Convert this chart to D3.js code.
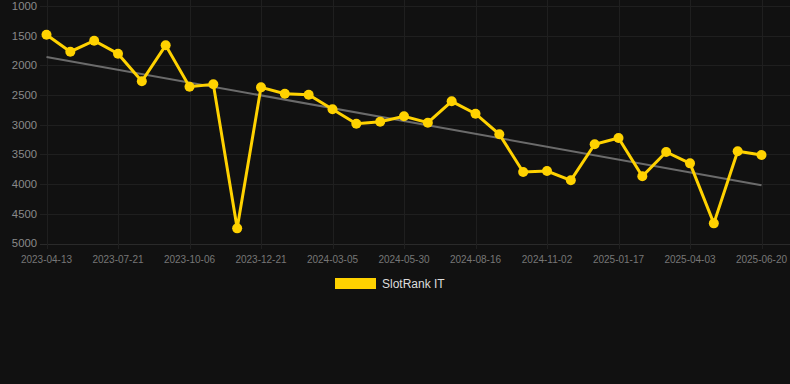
<!DOCTYPE html>
<html><head><meta charset="utf-8">
<script src="https://cdn.jsdelivr.net/npm/d3@7"></script>
<style>html,body{margin:0;padding:0;background:#111111;}svg{display:block;}</style>
</head><body>
<svg id="c" width="790" height="384"></svg>
<script>
const dates = ["2023-04-13","2023-05-06","2023-05-29","2023-07-21","2023-08-13","2023-09-05","2023-10-06","2023-10-29","2023-11-21","2023-12-21","2024-01-13","2024-02-05","2024-03-05","2024-03-28","2024-04-20","2024-05-30","2024-06-22","2024-07-15","2024-08-16","2024-09-08","2024-10-01","2024-11-02","2024-11-25","2024-12-18","2025-01-17","2025-02-09","2025-03-04","2025-04-03","2025-04-26","2025-05-19","2025-06-20"];
const ranks = [1483,1770,1584,1803,2268,1662,2359,2319,4745,2370,2477,2494,2740,2982,2948,2858,2965,2605,2814,3161,3795,3779,3936,3329,3223,3868,3459,3650,4661,3447,3509];
const yTicks = [1000,1500,2000,2500,3000,3500,4000,4500,5000];
const seriesName = "SlotRank IT";

const svg = d3.select("#c");
const x = d3.scalePoint().domain(d3.range(dates.length)).range([46.5, 761.5]);
const y = d3.scaleLinear().domain([1000, 5000]).range([6, 243.5]);

// grid
svg.append("g").selectAll("line").data(yTicks).join("line")
  .attr("x1", 40).attr("x2", 790)
  .attr("y1", d => Math.round(y(d)) + 0.5).attr("y2", d => Math.round(y(d)) + 0.5)
  .attr("stroke", d => d === 5000 ? "#2a2a2a" : "#1f1f1f").attr("stroke-width", 1);
const labelIdx = d3.range(0, dates.length, 3);
svg.append("g").selectAll("line").data(labelIdx).join("line")
  .attr("x1", i => Math.round(x(i)) + 0.5).attr("x2", i => Math.round(x(i)) + 0.5)
  .attr("y1", 0).attr("y2", 249)
  .attr("stroke", "#1f1f1f").attr("stroke-width", 1);

// axes labels
svg.append("g").selectAll("text").data(yTicks).join("text")
  .attr("x", 37).attr("y", d => y(d)).attr("dy", "0.35em")
  .attr("text-anchor", "end").attr("fill", "#8a8a8a")
  .attr("font-family", "Arial, 'Liberation Sans', sans-serif").attr("font-size", "11.3px")
  .text(d => d);
svg.append("g").selectAll("text").data(labelIdx).join("text")
  .attr("x", i => x(i)).attr("y", 259).attr("dy", "0.35em")
  .attr("text-anchor", "middle").attr("fill", "#777777")
  .attr("font-family", "Arial, 'Liberation Sans', sans-serif").attr("font-size", "10px")
  .text(i => dates[i]);

// trend (least squares)
const n = ranks.length;
const xm = d3.mean(d3.range(n)), ym = d3.mean(ranks);
let sxy = 0, sxx = 0;
ranks.forEach((v, i) => { sxy += (i - xm) * (v - ym); sxx += (i - xm) * (i - xm); });
const slope = sxy / sxx, icpt = ym - slope * xm;
svg.append("line")
  .attr("x1", x(0)).attr("y1", y(icpt))
  .attr("x2", x(n - 1)).attr("y2", y(icpt + slope * (n - 1)))
  .attr("stroke", "#6b6b6b").attr("stroke-width", 2);

// series
const line = d3.line().x((d, i) => x(i)).y(d => y(d));
svg.append("path").datum(ranks).attr("d", line)
  .attr("fill", "none").attr("stroke", "#FFD200").attr("stroke-width", 3).attr("stroke-linejoin", "miter");
svg.append("g").selectAll("circle").data(ranks).join("circle")
  .attr("cx", (d, i) => x(i)).attr("cy", d => y(d)).attr("r", 5)
  .attr("fill", "#FFD200");

// legend
svg.append("rect").attr("x", 335).attr("y", 278).attr("width", 41).attr("height", 11).attr("fill", "#FFD200");
svg.append("text").attr("x", 382).attr("y", 284).attr("dy", "0.35em")
  .attr("fill", "#dddddd").attr("font-family", "Arial, 'Liberation Sans', sans-serif").attr("font-size", "12px")
  .text(seriesName);
</script>
</body></html>
